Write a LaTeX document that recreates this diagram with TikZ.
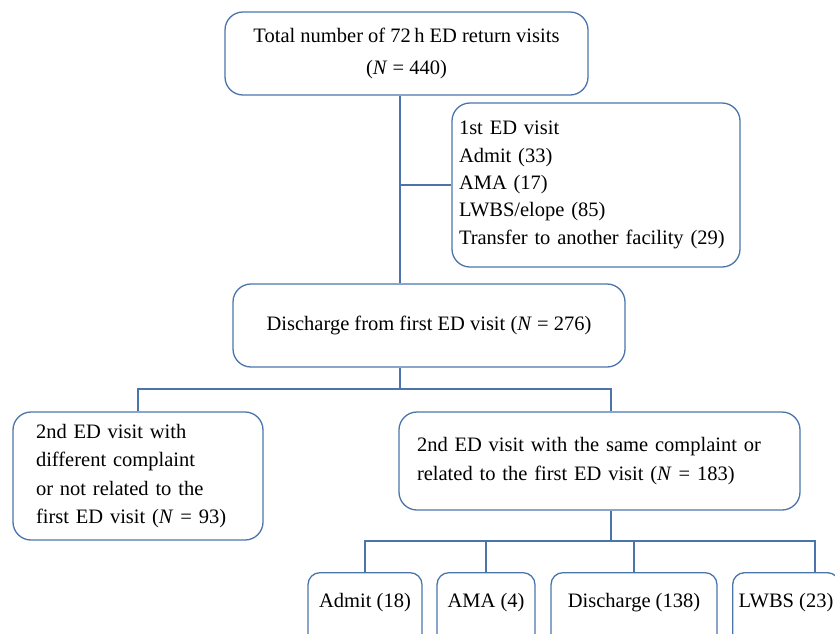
\documentclass[tikz,border=0pt]{standalone}
\usepackage{fontspec}
\setmainfont{Liberation Serif}
\usepackage{tikz}
\usetikzlibrary{positioning,calc}
\definecolor{edgeblue}{HTML}{4A74AA}

\begin{document}
\begin{tikzpicture}[x=1pt,y=-1pt,
box/.style={draw=edgeblue, line width=1.3pt, rounded corners=18pt, inner sep=0pt,
  font=\fontsize{20.5}{27.3}\selectfont},
leaf/.style={box, rounded corners=12pt, anchor=north, inner xsep=8pt,
  text height=35pt, text depth=53pt},
link/.style={draw=edgeblue, line width=1.3pt},]
\clip (0,0) rectangle (835,633);
\useasboundingbox (0,0) rectangle (835,633);

\node[box, minimum width=363pt, minimum height=83pt, align=center,
  font=\fontsize{20.5}{32}\selectfont] (total) at (406.5,53.5)
  {Total number of 72\,h ED return visits\\(\textit{N} = 440)};
\node[box, minimum height=164pt, text width=274pt, inner xsep=7pt, align=left] (first) at (596,185)
  {1st ED visit\\Admit (33)\\AMA (17)\\LWBS/elope (85)\\Transfer to another facility (29)};
\node[box, minimum width=392pt, minimum height=83pt] (dis) at (429,325.5)
  {Discharge from first ED visit (\textit{N} = 276)};
\node[box, minimum height=128pt, text width=204pt, inner xsep=23pt, align=left,
  font=\fontsize{20.5}{28.3}\selectfont] (other) at (138,476)
  {2nd ED visit with\\different complaint\\or not related to the\\first ED visit (\textit{N} = 93)};
\node[box, minimum height=98pt, text width=365pt, inner xsep=18pt, align=left,
  font=\fontsize{20.5}{29}\selectfont] (same) at (599.5,461)
  {2nd ED visit with the same complaint or\\related to the first ED visit (\textit{N} = 183)};

% outcomes of the 2nd visit
\node[leaf, minimum width=114pt] (admit) at (365,572) {Admit (18)};
\node[leaf, minimum width=98pt] (ama) at (486,572) {AMA (4)};
\node[leaf, minimum width=166pt] (dis2) at (634,572) {Discharge (138)};
\node[leaf, anchor=north west, inner xsep=6pt] (lwbs) at (732,572) {LWBS (23)};

\coordinate (spine) at (400,0);
\coordinate (arm) at (611,0);
\coordinate (tip) at (815,0);
\coordinate (split1) at (0,389);
\coordinate (split2) at (0,541);

\draw[link] (total.south -| spine) -- (dis.north -| spine);
\draw[link] (first.west) -- (first.west -| spine);
\draw[link] (dis.south -| spine) -- (spine |- split1);
\draw[link] (other.north) |- (arm |- split1) -- (same.north -| arm);
\draw[link] (same.south -| arm) -- (arm |- split2);
\draw[link] (admit.north) |- (tip |- split2) -- (lwbs.north -| tip);
\draw[link] (ama.north) -- (ama.north |- split2);
\draw[link] (dis2.north) -- (dis2.north |- split2);
\end{tikzpicture}
\end{document}
